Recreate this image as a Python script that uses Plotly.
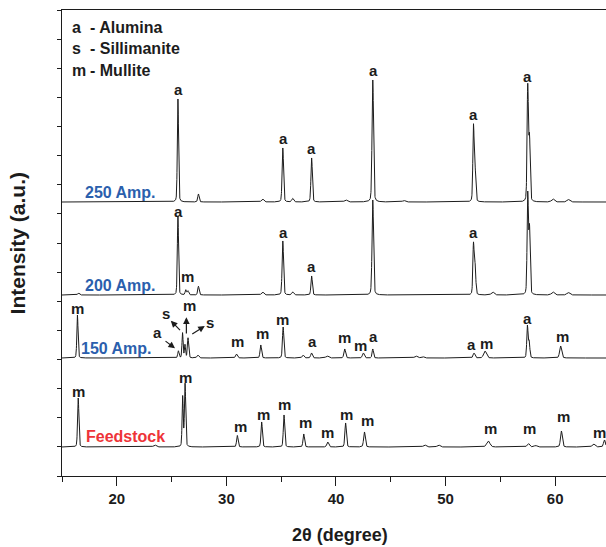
import numpy as np
import plotly.graph_objects as go

# ---------------- data ----------------
x_range = [15.0, 64.64]
y_range = [0, 466]

series_names = ["Feedstock", "150 Amp.", "200 Amp.", "250 Amp."]
series_colors = ["#ee3338", "#2b5fad", "#2b5fad", "#2b5fad"]
baselines = [29, 118, 181, 274]

# peak positions (deg), heights above baseline (a.u.), FWHM (deg)
feed_pos = [16.48, 23.47, 26.01, 26.23, 31.0, 33.22, 35.26, 37.06, 39.25, 40.88, 42.6, 48.1, 49.36, 53.9, 57.55, 58.2, 60.57, 63.5, 64.5]
feed_h   = [49, 2, 50, 63, 11.5, 25, 32, 13, 5, 24, 15, 2, 2, 6, 3.5, 1.5, 16, 3, 7]
feed_w   = [0.14, 0.3, 0.12, 0.14, 0.16, 0.15, 0.15, 0.16, 0.2, 0.16, 0.18, 0.3, 0.3, 0.35, 0.25, 0.3, 0.2, 0.3, 0.2]

a150_pos = [16.41, 25.62, 26.0, 26.22, 26.5, 27.4, 30.92, 33.14, 35.18, 37.0, 37.77, 39.2, 40.8, 42.5, 43.36, 47.3, 47.9, 52.6, 53.6, 57.47, 57.63, 60.5]
a150_h   = [43, 7, 25, 13, 20, 3, 4, 13, 31, 3, 5, 2, 9, 5, 9, 2, 1.5, 5, 7, 32, 16, 12]
a150_w   = [0.13, 0.14, 0.12, 0.12, 0.14, 0.2, 0.2, 0.16, 0.15, 0.2, 0.18, 0.3, 0.18, 0.2, 0.15, 0.3, 0.3, 0.2, 0.3, 0.14, 0.14, 0.22]

a200_pos = [16.5, 25.58, 26.3, 26.5, 27.45, 33.3, 35.15, 36.05, 37.78, 43.36, 52.55, 52.7, 54.3, 57.5, 57.66, 59.8, 61.2]
a200_h   = [2, 79, 5, 4, 8.7, 3, 54, 3, 19, 95, 51, 28, 3, 100, 65, 3, 2.5]
a200_w   = [0.2, 0.13, 0.15, 0.15, 0.15, 0.25, 0.15, 0.2, 0.15, 0.16, 0.14, 0.14, 0.3, 0.14, 0.14, 0.3, 0.3]

a250_pos = [25.58, 27.45, 33.3, 35.15, 36.05, 37.78, 40.9, 43.36, 46.2, 52.55, 52.7, 57.5, 57.66, 59.8, 61.2]
a250_h   = [103, 8, 3, 54, 3.5, 44, 2, 122, 1.5, 76, 30, 115, 62, 3, 2.5]
a250_w   = [0.13, 0.15, 0.25, 0.15, 0.2, 0.15, 0.3, 0.16, 0.3, 0.14, 0.14, 0.14, 0.14, 0.3, 0.3]

# peak-phase labels: x (deg), y (a.u.), letter
feed_lab_x = [16.48, 26.23, 31.25, 33.37, 35.32, 37.19, 39.25, 41.0, 42.85, 54.06, 57.68, 60.73, 64.07]
feed_lab_y = [84.7, 98.6, 49.9, 62, 71.8, 53.4, 44, 61.4, 55.8, 47.5, 47.5, 59.6, 44]
feed_lab_t = ["m"] * 13

a150_lab_x = [16.44, 23.7, 24.47, 26.6, 28.51, 31.01, 33.29, 35.12, 37.9, 40.74, 42.26, 43.45, 52.36, 53.76, 57.47, 60.67]
a150_lab_y = [168, 143.7, 163, 170.3, 153.7, 134.7, 143, 157, 134.7, 139, 131, 140, 131.3, 133, 157.7, 139.7]
a150_lab_t = ["m", "a", "s", "m", "s", "m", "m", "m", "a", "m", "m", "a", "a", "m", "a", "m"]

a200_lab_x = [25.6, 26.48, 35.2, 37.8, 52.55]
a200_lab_y = [265, 199.8, 244, 209.5, 244]
a200_lab_t = ["a", "m", "a", "a", "a"]

a250_lab_x = [25.6, 35.2, 37.8, 43.4, 52.55, 57.5]
a250_lab_y = [387, 338, 328, 406, 362, 400]
a250_lab_t = ["a"] * 6

# arrows in the 150 Amp. pattern: tip (x, y) and tail (x, y)
arrow_tip_x = [25.31, 24.93, 26.35, 28.03]
arrow_tip_y = [127.7, 155.3, 158.7, 150]
arrow_tail_x = [24.31, 25.9, 26.35, 26.75]
arrow_tail_y = [136, 144.3, 141, 141]

# series name labels: x centre (deg), y centre (a.u.)
name_x = [20.82, 20.0, 20.36, 20.36]
name_y = [39.4, 128, 190.4, 283.7]

# phase key
key_letters = ["a", "s", "m"]
key_names = ["- Alumina", "- Sillimanite", "- Mullite"]
key_y = [449, 427.7, 406]

x_ticks = [20, 30, 40, 50, 60]
x_title = "2θ (degree)"
y_title = "Intensity (a.u.)"

# ---------------- build figure ----------------
FONT = "Liberation Sans, Arial, Helvetica, sans-serif"
INK = "#1c1c1c"
grid = np.arange(x_range[0], x_range[1] + 0.005, 0.01)


def pattern(base, pos, h, w):
    y = np.full_like(grid, float(base))
    for p, hh, ww in zip(pos, h, w):
        s = ww / 2.3548
        g = np.exp(-0.5 * ((grid - p) / s) ** 2)
        l = 1.0 / (1.0 + ((grid - p) / (ww / 2)) ** 2)
        y += hh * (0.75 * g + 0.25 * l)
    return y

patterns = [
    (feed_pos, feed_h, feed_w),
    (a150_pos, a150_h, a150_w),
    (a200_pos, a200_h, a200_w),
    (a250_pos, a250_h, a250_w),
]

fig = go.Figure()
for name, base, (pos, h, w) in zip(series_names, baselines, patterns):
    fig.add_trace(go.Scatter(x=grid, y=pattern(base, pos, h, w), mode="lines",
                             line=dict(color=INK, width=1), name=name,
                             showlegend=False, hoverinfo="skip"))

ann = []
for lx, ly, lt in [(feed_lab_x, feed_lab_y, feed_lab_t), (a150_lab_x, a150_lab_y, a150_lab_t),
                   (a200_lab_x, a200_lab_y, a200_lab_t), (a250_lab_x, a250_lab_y, a250_lab_t)]:
    for x, y, t in zip(lx, ly, lt):
        ann.append(dict(x=x, y=y, xref="x", yref="y", text="<b>%s</b>" % t, showarrow=False,
                        font=dict(family=FONT, size=15, color=INK),
                        xanchor="center", yanchor="middle"))

for tx, ty, sx, sy in zip(arrow_tip_x, arrow_tip_y, arrow_tail_x, arrow_tail_y):
    ann.append(dict(x=tx, y=ty, ax=sx, ay=sy, xref="x", yref="y", axref="x", ayref="y",
                    text="", showarrow=True, arrowhead=2, arrowsize=1.1, arrowwidth=1.2,
                    arrowcolor=INK, standoff=0, startstandoff=0))

for name, col, x, y in zip(series_names, series_colors, name_x, name_y):
    ann.append(dict(x=x, y=y, xref="x", yref="y", text="<b>%s</b>" % name, showarrow=False,
                    font=dict(family=FONT, size=16, color=col), xanchor="center", yanchor="middle"))

for letter, nm, y in zip(key_letters, key_names, key_y):
    ann.append(dict(x=15.73, y=y, xref="x", yref="y", text="<b>%s</b>" % letter, showarrow=False,
                    font=dict(family=FONT, size=16, color=INK), xanchor="left", yanchor="middle"))
    ann.append(dict(x=17.4, y=y, xref="x", yref="y", text="<b>%s</b>" % nm, showarrow=False,
                    font=dict(family=FONT, size=16, color=INK), xanchor="left", yanchor="middle"))

# axis titles
ann.append(dict(x=0.511, y=-0.127, xref="paper", yref="paper", text="<b>%s</b>" % x_title,
                showarrow=False, font=dict(family=FONT, size=18, color=INK),
                xanchor="center", yanchor="middle"))
ann.append(dict(x=-0.082, y=0.5, xref="paper", yref="paper", text="<b>%s</b>" % y_title,
                showarrow=False, textangle=-90, font=dict(family=FONT, size=21, color=INK),
                xanchor="center", yanchor="middle"))

W, H = 606, 547
fig.update_layout(
    width=W, height=H,
    margin=dict(l=62, r=0, t=10, b=71, autoexpand=False),
    paper_bgcolor="white", plot_bgcolor="white",
    annotations=ann,
    xaxis=dict(range=x_range, tickvals=x_ticks, ticktext=["<b>%d</b>" % v for v in x_ticks],
               automargin=False,
               ticks="outside", ticklen=9, tickwidth=1.2, tickcolor=INK,
               minor=dict(dtick=5, tick0=15, ticks="outside", ticklen=5, tickwidth=1.2, tickcolor=INK),
               showline=True, linecolor=INK, linewidth=1.3, mirror=True,
               showgrid=False, zeroline=False,
               tickfont=dict(family=FONT, size=15, color=INK)),
    yaxis=dict(range=y_range, tick0=0, dtick=(y_range[1] - y_range[0]) / 16, showticklabels=False,
               automargin=False,
               ticks="outside", ticklen=4, tickwidth=1.2, tickcolor=INK,
               showline=True, linecolor=INK, linewidth=1.3, mirror=False,
               showgrid=False, zeroline=False),
)

# remove the default page margin so the 606x547 figure fills the window exactly
post = ("document.body.style.margin='0';document.body.style.overflow='hidden';"
        "var gd=document.getElementById('{plot_id}');"
        "gd.style.width='%dpx';gd.style.height='%dpx';"
        "Plotly.relayout(gd,{width:%d,height:%d});" % (W, H, W, H))

fig.write_html("out.html", config={"responsive": False, "displayModeBar": False}, post_script=post)
